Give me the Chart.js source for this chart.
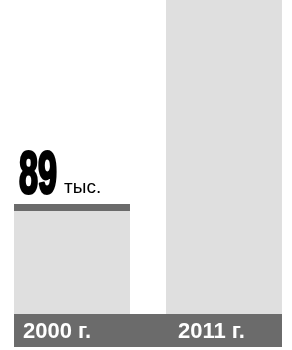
<!DOCTYPE html>
<html>
<head>
<meta charset="utf-8">
<script src="https://cdn.jsdelivr.net/npm/chart.js@4.4.1/dist/chart.umd.min.js"></script>
<style>
    html, body { margin: 0; padding: 0; background: #fff; overflow: hidden; }
    #wrap { position: absolute; left: -4px; top: 0; width: 304px; height: 350px; }
</style>
</head>
<body>
<div id="wrap"><canvas id="chart"></canvas></div>
<script>
// Chart data (thousands)
const years = ['2000 г.', '2011 г.'];
const values = [89, 300];
const unitLabel = 'тыс.';

// Dark band with year labels under the bars, and value label over the first bar
const bandPlugin = {
    id: 'band',
    afterDraw(chart) {
        const ctx = chart.ctx;
        const bars = chart.getDatasetMeta(0).data;
        const area = chart.chartArea;
        const left = bars[0].x - bars[0].width / 2;
        const right = bars[bars.length - 1].x + bars[bars.length - 1].width / 2;

        ctx.save();
        ctx.fillStyle = '#6b6b6b';
        ctx.fillRect(left, area.bottom, right - left, 33);

        ctx.fillStyle = '#ffffff';
        ctx.font = 'bold 22px "Liberation Sans", Arial, sans-serif';
        ctx.textBaseline = 'alphabetic';
        ctx.textAlign = 'left';
        bars.forEach(function (bar, i) {
            ctx.fillText(years[i], bar.x - bar.width / 2 + 9 + i * 3, area.bottom + 24);
        });

        // value label for the first bar
        const first = bars[0];
        const x0 = first.x - first.width / 2 + 5;
        const y0 = first.y - 11;
        ctx.fillStyle = '#000000';
        ctx.strokeStyle = '#000000';
        ctx.save();
        ctx.translate(x0, y0);
        ctx.scale(0.58, 1);
        ctx.font = 'bold 59px "Liberation Sans", Arial, sans-serif';
        ctx.lineWidth = 3;
        ctx.lineJoin = 'round';
        const num = String(values[0]);
        ctx.fillText(num, 0, 0);
        ctx.strokeText(num, 0, 0);
        const numWidth = ctx.measureText(num).width * 0.58;
        ctx.restore();
        ctx.font = '19px "Liberation Sans", Arial, sans-serif';
        ctx.fillText(unitLabel, x0 + numWidth + 7, y0);
        ctx.restore();
    }
};

new Chart(document.getElementById('chart'), {
    type: 'bar',
    data: {
        labels: years,
        datasets: [{
            data: values,
            backgroundColor: '#dfdfdf',
            borderColor: '#6b6b6b',
            borderWidth: { top: 7, right: 0, bottom: 0, left: 0 },
            borderSkipped: 'bottom',
            barPercentage: 0.763,
            categoryPercentage: 1
        }]
    },
    options: {
        responsive: true,
        maintainAspectRatio: false,
        animation: false,
        layout: { padding: { top: 0, bottom: 36, left: 0, right: 0 } },
        plugins: {
            legend: { display: false },
            tooltip: { enabled: false }
        },
        scales: {
            x: { display: false, offset: true },
            y: { display: false, min: 0, max: 254 }
        }
    },
    plugins: [bandPlugin]
});
</script>
</body>
</html>
